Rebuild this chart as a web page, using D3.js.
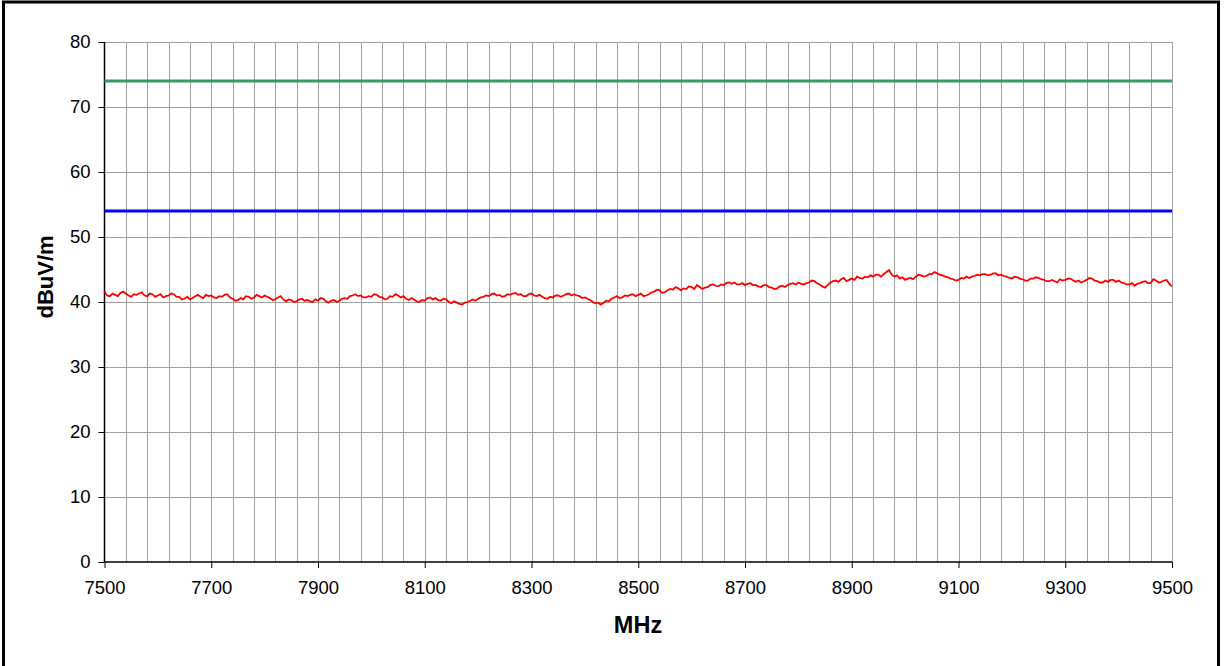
<!DOCTYPE html>
<html>
<head>
<meta charset="utf-8">
<script src="https://cdn.jsdelivr.net/npm/d3@7"></script>
<style>
  body { margin: 0; background: #fff; }
  svg { display: block; font-family: "Liberation Sans", Arial, sans-serif; }
</style>
</head>
<body>
<svg width="1225" height="666"></svg>
<script>
// measured emission, 5 MHz steps from 7500 MHz
const startFreq = 7500;
const stepFreq = 5;
const emission = [
    41.6, 41.0, 40.9, 41.3, 41.1, 40.9, 41.4, 41.6, 41.3, 41.0, 40.8, 41.2, 41.1, 41.3, 41.5, 41.0, 40.9, 41.3, 41.2, 40.8,
    41.0, 41.2, 40.7, 40.9, 41.0, 41.3, 41.2, 40.8, 40.8, 40.4, 40.5, 40.8, 40.4, 40.6, 40.9, 41.1, 40.8, 40.6, 41.1, 40.9,
    41.0, 40.7, 40.6, 40.9, 40.8, 41.1, 41.2, 40.7, 40.5, 40.2, 40.3, 40.6, 40.4, 40.9, 40.8, 40.5, 40.7, 41.1, 40.9, 40.7,
    41.0, 40.8, 40.6, 40.3, 40.4, 40.7, 40.9, 40.4, 40.1, 40.4, 40.3, 40.0, 40.1, 40.4, 40.5, 40.2, 40.3, 40.1, 40.0, 40.4,
    40.2, 40.6, 40.5, 40.1, 39.9, 40.2, 40.3, 40.0, 40.2, 40.5, 40.6, 40.5, 40.9, 41.0, 41.2, 40.9, 41.0, 40.7, 40.7, 40.9,
    40.8, 41.2, 41.1, 40.8, 40.7, 40.4, 40.5, 40.9, 40.8, 41.2, 41.0, 40.7, 40.9, 40.5, 40.3, 40.6, 40.4, 40.1, 40.0, 40.3,
    40.2, 40.6, 40.7, 40.4, 40.6, 40.3, 40.2, 40.5, 40.4, 40.0, 39.8, 40.1, 39.9, 39.7, 39.6, 39.9, 40.0, 40.2, 40.4, 40.2,
    40.5, 40.7, 40.8, 41.0, 40.9, 41.2, 41.3, 41.0, 41.1, 40.8, 40.9, 41.2, 41.1, 41.3, 41.4, 41.1, 41.2, 40.9, 40.9, 41.2,
    41.3, 41.0, 40.9, 41.1, 40.8, 40.6, 40.5, 40.8, 40.7, 41.0, 41.0, 40.8, 41.0, 41.2, 41.3, 41.0, 41.2, 41.0, 40.9, 40.6,
    40.7, 40.5, 40.3, 40.0, 39.8, 39.9, 39.6, 39.9, 40.2, 40.1, 40.5, 40.7, 40.9, 40.6, 40.7, 41.0, 40.9, 41.1, 41.2, 40.9,
    41.1, 41.3, 40.9, 41.0, 41.2, 41.5, 41.6, 41.9, 41.8, 41.4, 41.5, 41.8, 42.0, 41.9, 42.3, 42.1, 41.8, 42.1, 42.0, 42.4,
    42.3, 42.0, 42.6, 42.3, 42.0, 42.2, 42.3, 42.6, 42.7, 42.5, 42.4, 42.7, 42.6, 42.9, 43.0, 42.8, 43.0, 42.7, 42.7, 42.9,
    42.6, 42.8, 42.9, 42.6, 42.6, 42.4, 42.3, 42.6, 42.6, 42.3, 42.2, 42.0, 42.1, 42.4, 42.5, 42.3, 42.6, 42.8, 42.9, 42.7,
    43.0, 42.8, 42.7, 42.9, 43.0, 43.3, 43.2, 42.9, 42.7, 42.4, 42.2, 42.6, 43.0, 43.2, 43.3, 43.1, 43.5, 43.7, 43.2, 43.4,
    43.6, 43.4, 43.9, 43.7, 43.6, 43.9, 43.8, 44.1, 43.9, 44.2, 44.2, 43.9, 44.3, 44.6, 44.9, 44.2, 43.9, 44.1, 43.6, 43.8,
    43.4, 43.6, 43.7, 43.5, 43.9, 44.2, 44.1, 43.9, 44.0, 44.3, 44.3, 44.6, 44.4, 44.2, 44.1, 43.9, 43.8, 43.6, 43.5, 43.3,
    43.4, 43.7, 43.6, 43.9, 43.7, 43.9, 44.0, 44.2, 44.1, 44.3, 44.3, 44.1, 44.2, 44.4, 44.4, 44.1, 44.2, 44.0, 43.9, 43.7,
    43.6, 43.9, 43.8, 43.6, 43.5, 43.3, 43.3, 43.6, 43.6, 43.8, 43.7, 43.5, 43.4, 43.2, 43.2, 43.4, 43.2, 43.0, 43.5, 43.3,
    43.4, 43.6, 43.6, 43.3, 43.1, 43.3, 43.0, 43.2, 43.4, 43.7, 43.6, 43.3, 43.2, 43.0, 43.0, 43.3, 43.1, 43.4, 43.4, 43.1,
    43.3, 43.0, 42.9, 42.7, 42.7, 42.9, 42.5, 42.8, 42.9, 43.1, 43.2, 42.9, 42.9, 43.5, 43.3, 43.0, 43.1, 43.3, 43.4, 42.8,
    42.4
];
const limitPeak = 74;
const limitAvg = 54;
const xTicks = [7500, 7700, 7900, 8100, 8300, 8500, 8700, 8900, 9100, 9300, 9500];
const yTicks = [0, 10, 20, 30, 40, 50, 60, 70, 80];

const svg = d3.select("svg");
const plotLeft = 104.5, plotRight = 1172, plotTop = 42, plotBottom = 562;

const x = d3.scaleLinear().domain([7500, 9500]).range([plotLeft, plotRight]);
const y = d3.scaleLinear().domain([0, 80]).range([plotBottom, plotTop]);

// outer frame
svg.append("path")
    .attr("d", "M3.5,670 V2 H1218.5 V670")
    .attr("fill", "none")
    .attr("stroke", "black")
    .attr("stroke-width", 3);

// grid
const grid = svg.append("g").attr("stroke", "#a0a0a0").attr("stroke-width", 1);
grid.selectAll("line.v")
    .data(d3.range(7540, 9501, 40))
    .join("line")
    .attr("class", "v")
    .attr("x1", d => Math.round(x(d)) + 0.5)
    .attr("x2", d => Math.round(x(d)) + 0.5)
    .attr("y1", plotTop)
    .attr("y2", plotBottom);
grid.selectAll("line.h")
    .data(yTicks.slice(1))
    .join("line")
    .attr("class", "h")
    .attr("x1", plotLeft)
    .attr("x2", plotRight)
    .attr("y1", d => Math.round(y(d)) + 0.5)
    .attr("y2", d => Math.round(y(d)) + 0.5);

// axes
const xAxis = svg.append("g")
    .attr("transform", `translate(0,${plotBottom})`)
    .call(d3.axisBottom(x).tickValues(xTicks).tickSize(6).tickPadding(13).tickFormat(d3.format("d")));
const yAxis = svg.append("g")
    .attr("transform", `translate(${plotLeft},0)`)
    .call(d3.axisLeft(y).tickValues(yTicks).tickSize(6).tickPadding(8));
[xAxis, yAxis].forEach(a => {
    a.select(".domain").attr("stroke", "black").attr("stroke-width", 1.5);
    a.selectAll(".tick line").attr("stroke", "black");
    a.selectAll("text").attr("font-size", 18.5).attr("fill", "black")
        .attr("font-family", "Liberation Sans, Arial, sans-serif");
});
xAxis.select(".domain").attr("d", `M${plotLeft},0H${plotRight}`);
yAxis.select(".domain").attr("d", `M0,${plotTop}V${plotBottom}`);

// limit lines
svg.append("line")
    .attr("x1", plotLeft).attr("x2", plotRight)
    .attr("y1", y(limitPeak)).attr("y2", y(limitPeak))
    .attr("stroke", "#339966").attr("stroke-width", 3);
svg.append("line")
    .attr("x1", plotLeft).attr("x2", plotRight)
    .attr("y1", y(limitAvg)).attr("y2", y(limitAvg))
    .attr("stroke", "#0000ff").attr("stroke-width", 3);

// emission trace
const line = d3.line()
    .x((d, i) => x(startFreq + i * stepFreq))
    .y(d => y(d));
svg.append("path")
    .datum(emission)
    .attr("d", line)
    .attr("fill", "none")
    .attr("stroke", "#ff0000")
    .attr("stroke-width", 1.8);

// axis titles
svg.append("text")
    .attr("x", 638)
    .attr("y", 633)
    .attr("text-anchor", "middle")
    .attr("font-size", 23.5)
    .attr("font-weight", "bold")
    .text("MHz");
svg.append("text")
    .attr("transform", "translate(53,277) rotate(-90)")
    .attr("text-anchor", "middle")
    .attr("font-size", 22)
    .attr("font-weight", "bold")
    .text("dBuV/m");
</script>
</body>
</html>
